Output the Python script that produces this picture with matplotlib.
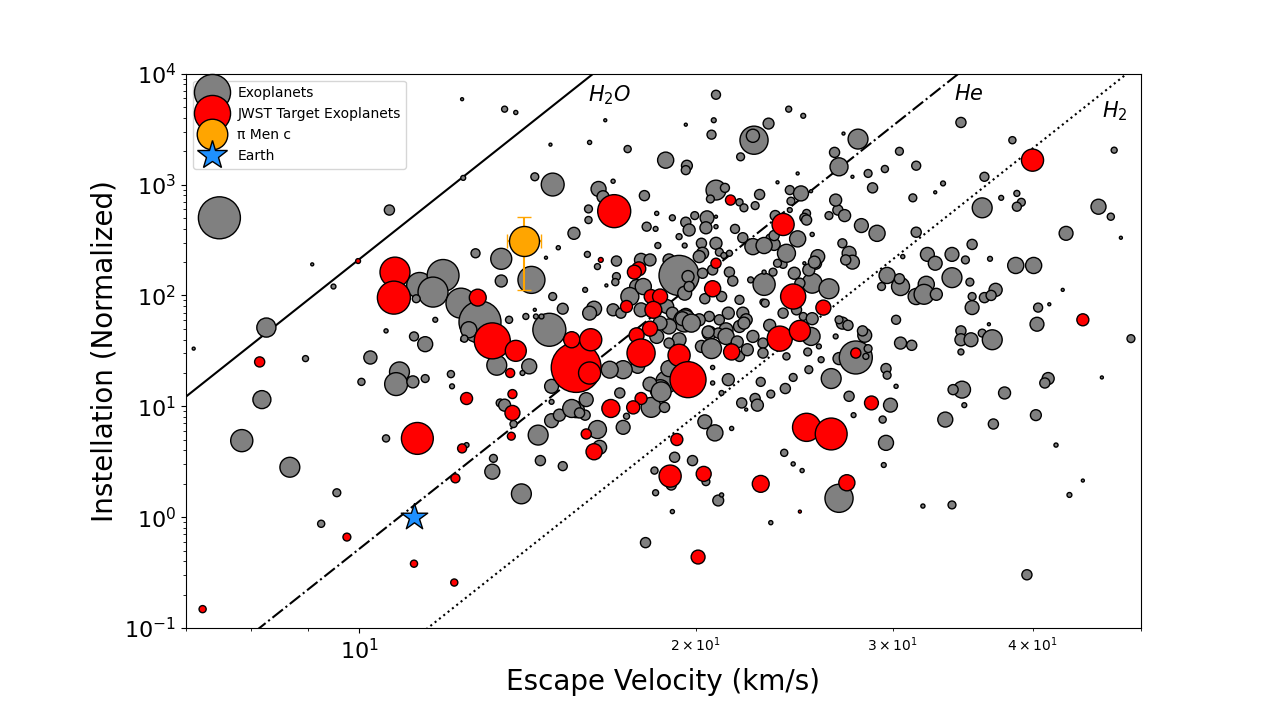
import numpy as np
import matplotlib.pyplot as plt
from matplotlib.lines import Line2D

# values: log10 escape velocity (km/s), log10 instellation, planet radius (R_earth)
gray_logv = [
    0.852, 0.875, 0.895, 0.913, 0.917, 0.938, 0.952, 0.958, 0.977, 0.980,
    0.966, 1.010, 1.002, 1.027, 1.092, 1.093, 1.024, 1.024, 1.054, 1.075,
    1.066, 1.091, 1.108, 1.098, 1.051, 1.068, 1.049, 1.059, 1.104, 1.127,
    1.127, 1.134, 1.036, 1.033, 1.048, 1.059, 1.082, 1.083, 1.123, 1.152,
    1.146, 1.126, 1.130, 1.138, 1.160, 1.154, 1.170, 1.182, 1.173, 1.157,
    1.158, 1.163, 1.149, 1.092, 1.094, 1.172, 1.172, 1.179, 1.172, 1.096,
    1.120, 1.119, 1.162, 1.182, 1.145, 1.130, 1.140, 1.220, 1.171, 1.206,
    1.240, 1.319, 1.384, 1.397, 1.366, 1.317, 1.292, 1.315, 1.353, 1.352,
    1.341, 1.274, 1.293, 1.292, 1.392, 1.374, 1.157, 1.173, 1.227, 1.214,
    1.218, 1.255, 1.205, 1.205, 1.319, 1.327, 1.314, 1.340, 1.344, 1.354,
    1.358, 1.385, 1.395, 1.386, 1.404, 1.385, 1.400, 1.398, 1.392, 1.405,
    1.266, 1.280, 1.257, 1.265, 1.292, 1.300, 1.311, 1.310, 1.295, 1.319,
    1.319, 1.336, 1.192, 1.286, 1.291, 1.267, 1.306, 1.319, 1.307, 1.322,
    1.326, 1.343, 1.352, 1.361, 1.368, 1.371, 1.178, 1.204, 1.167, 1.213,
    1.230, 1.252, 1.260, 1.277, 1.304, 1.331, 1.379, 1.408, 1.286, 1.294,
    1.230, 1.229, 1.221, 1.202, 1.248, 1.242, 1.254, 1.307, 1.316, 1.331,
    1.334, 1.350, 1.362, 1.340, 1.324, 1.309, 1.291, 1.295, 1.210, 1.227,
    1.234, 1.206, 1.252, 1.275, 1.280, 1.292, 1.291, 1.313, 1.330, 1.343,
    1.361, 1.379, 1.391, 1.405, 1.402, 1.322, 1.346, 1.340, 1.304, 1.313,
    1.328, 1.407, 1.352, 1.361, 1.266, 1.277, 1.269, 1.289, 1.297, 1.334,
    1.306, 1.286, 1.277, 1.321, 1.328, 1.338, 1.312, 1.315, 1.340, 1.361,
    1.344, 1.347, 1.249, 1.275, 1.269, 1.260, 1.277, 1.261, 1.273, 1.270,
    1.233, 1.236, 1.224, 1.239, 1.236, 1.213, 1.215, 1.194, 1.202, 1.190,
    1.197, 1.203, 1.224, 1.316, 1.316, 1.330, 1.359, 1.342, 1.346, 1.354,
    1.356, 1.368, 1.381, 1.388, 1.402, 1.401, 1.382, 1.324, 1.309, 1.318,
    1.333, 1.282, 1.298, 1.279, 1.310, 1.264, 1.265, 1.280, 1.321, 1.324,
    1.256, 1.368, 1.380, 1.388, 1.396, 1.372, 1.371, 1.400, 1.420, 1.428,
    1.434, 1.449, 1.463, 1.498, 1.432, 1.438, 1.441, 1.435, 1.410, 1.407,
    1.382, 1.374, 1.398, 1.362, 1.362, 1.370, 1.389, 1.394, 1.420, 1.363,
    1.397, 1.405, 1.367, 1.404, 1.411, 1.413, 1.422, 1.429, 1.444, 1.452,
    1.455, 1.453, 1.432, 1.437, 1.426, 1.429, 1.480, 1.484, 1.494, 1.471,
    1.472, 1.480, 1.438, 1.475, 1.442, 1.472, 1.484, 1.483, 1.467, 1.486,
    1.498, 1.468, 1.471, 1.469, 1.429, 1.504, 1.530, 1.538, 1.446, 1.433,
    1.425, 1.483, 1.584, 1.675, 1.429, 1.441, 1.455, 1.470, 1.498, 1.459,
    1.522, 1.515, 1.559, 1.495, 1.574, 1.588, 1.592, 1.588, 1.557, 1.661,
    1.672, 1.426, 1.632, 1.681, 1.548, 1.508, 1.515, 1.530, 1.542, 1.564,
    1.587, 1.603, 1.507, 1.505, 1.516, 1.530, 1.546, 1.569, 1.559, 1.565,
    1.548, 1.548, 1.629, 1.617, 1.607, 1.606, 1.690, 1.563, 1.450, 1.538,
    1.538, 1.547, 1.557, 1.566, 1.538, 1.539, 1.531, 1.541, 1.524, 1.567,
    1.577, 1.605, 1.616, 1.613, 1.664, 1.623, 1.647, 1.635, 1.597,
]
gray_logs = [
    1.52, 2.70, 0.69, 1.06, 1.71, 0.45, 1.43, 2.28, 2.08, 0.22,
    -0.06, 1.44, 1.22, 2.77, 3.77, 3.06, 1.68, 0.71, 2.09, 2.18,
    2.03, 1.93, 1.76, 1.69, 1.97, 1.78, 1.63, 1.56, 2.38, 2.33,
    2.13, 1.78, 1.31, 1.20, 1.22, 1.25, 1.29, 1.18, 1.37, 1.36,
    1.30, 1.03, 1.01, 0.84, 0.74, 2.14, 1.69, 1.88, 1.99, 1.87,
    1.81, 1.81, 1.81, 1.60, 1.61, 1.18, 0.87, 0.92, 1.04, 0.65,
    0.53, 0.41, 0.51, 0.46, 0.21, 3.68, 3.65, 3.58, 3.36, 3.38,
    3.32, 3.81, 3.68, 3.62, 3.55, 3.58, 3.54, 3.45, 3.40, 3.44,
    3.25, 3.22, 3.17, 3.13, 3.10, 3.02, 3.07, 3.00, 3.03, 2.96,
    2.89, 2.90, 2.78, 2.68, 2.95, 2.97, 2.87, 2.84, 2.79, 2.81,
    2.91, 2.95, 2.92, 2.85, 2.94, 2.77, 2.74, 2.70, 2.51, 2.55,
    2.74, 2.70, 2.62, 2.60, 2.66, 2.72, 2.70, 2.61, 2.59, 2.71,
    2.62, 2.60, 2.56, 2.53, 2.45, 2.45, 2.47, 2.47, 2.38, 2.39,
    2.36, 2.52, 2.44, 2.47, 2.51, 2.46, 2.43, 2.37, 2.34, 2.26,
    2.31, 2.32, 2.32, 2.32, 2.35, 2.38, 2.28, 2.29, 2.18, 2.17,
    2.17, 2.12, 2.09, 2.05, 2.08, 1.99, 2.08, 2.20, 2.23, 2.21,
    2.13, 2.14, 2.10, 1.96, 1.99, 1.97, 2.02, 2.08, 1.88, 1.87,
    1.84, 1.84, 1.87, 1.90, 1.84, 1.82, 1.77, 1.81, 1.84, 1.84,
    1.94, 1.84, 1.87, 2.11, 2.23, 1.78, 1.78, 1.72, 1.78, 1.66,
    1.69, 1.78, 1.63, 1.57, 1.63, 1.72, 1.75, 1.79, 1.75, 1.57,
    1.54, 1.60, 1.57, 1.66, 1.63, 1.58, 1.67, 1.52, 1.45, 1.48,
    1.75, 1.51, 1.36, 1.22, 1.15, 1.20, 1.34, 0.99, 0.99, 1.13,
    1.12, 1.33, 1.34, 0.91, 0.81, 0.79, 0.63, 0.97, 0.92, 0.98,
    0.94, 1.06, 1.33, 1.35, 1.21, 1.24, 1.22, 1.03, 0.97, 1.07,
    1.01, 1.11, 1.16, 1.26, 1.33, 1.49, 1.45, 1.12, 0.86, 0.76,
    0.80, 0.54, 0.51, 0.29, 0.32, 0.42, 0.22, 0.05, 0.15, 0.20,
    -0.23, -0.05, 0.58, 0.48, 0.42, 2.72, 2.54, 2.68, 2.72, 2.77,
    2.72, 2.63, 2.56, 2.57, 2.47, 2.38, 2.30, 2.32, 2.35, 2.30,
    2.38, 2.29, 2.29, 2.45, 2.21, 2.21, 2.20, 2.11, 2.06, 1.93,
    1.81, 1.79, 1.73, 1.63, 1.54, 1.42, 1.25, 1.43, 1.44, 1.64,
    1.52, 1.45, 1.75, 1.73, 1.63, 1.78, 1.78, 1.57, 1.55, 1.34,
    1.28, 1.18, 1.09, 1.01, 0.92, 2.18, 2.08, 2.15, 2.08, 2.35,
    1.99, 0.88, 0.67, 0.47, 0.17, 0.10, 0.11, 3.56, 3.41, 3.46,
    3.29, 3.30, 3.40, 3.31, 3.16, 3.07, 3.10, 3.14, 3.17, 2.97,
    3.01, 2.93, 3.07, 2.88, 2.88, 2.92, 2.84, 2.80, 2.79, 2.80,
    2.71, 2.86, 2.56, 2.52, 2.46, 2.37, 2.29, 2.37, 2.32, 2.33,
    2.27, 2.27, 2.10, 2.01, 2.01, 2.16, 2.12, 2.05, 1.98, 2.00,
    1.99, 1.89, 2.05, 1.92, 1.89, 1.74, 1.61, 1.74, 1.68, 1.68,
    1.60, 1.60, 1.66, 1.60, 1.49, 1.15, 1.15, 1.01, 0.88, 0.84,
    1.12, 0.92, 1.25, 1.21, 1.26, 0.65, 0.33, 0.20, -0.52,
]
gray_rad = [
    0.8, 11.2, 5.9, 4.8, 5.1, 5.3, 1.6, 0.8, 1.3, 2.1,
    1.9, 3.5, 1.9, 2.7, 0.8, 1.3, 1.1, 1.9, 6.9, 8.5,
    8.0, 8.0, 11.2, 4.3, 2.1, 1.3, 2.4, 4.0, 2.4, 5.6,
    3.2, 1.9, 5.3, 6.1, 3.2, 2.1, 1.9, 1.3, 5.3, 4.0,
    1.3, 2.1, 3.2, 1.9, 5.3, 7.2, 8.8, 2.9, 2.1, 0.8,
    1.3, 1.3, 1.6, 0.8, 1.9, 3.7, 3.7, 3.2, 1.3, 1.3,
    2.1, 4.0, 2.7, 2.4, 5.3, 1.6, 1.1, 0.8, 0.8, 1.1,
    1.9, 2.4, 1.6, 1.3, 2.9, 1.3, 0.8, 2.4, 7.5, 3.5,
    2.1, 4.3, 2.9, 2.4, 0.8, 0.8, 2.1, 6.1, 1.1, 4.0,
    3.2, 2.7, 2.1, 1.9, 5.3, 2.4, 2.1, 1.9, 2.1, 2.1,
    2.7, 2.4, 4.0, 2.1, 0.8, 1.3, 2.1, 2.4, 4.3, 1.1,
    1.1, 1.6, 2.4, 1.3, 2.7, 2.1, 3.7, 3.2, 3.2, 0.8,
    1.1, 2.4, 3.2, 1.6, 1.3, 1.6, 2.7, 3.2, 3.2, 2.1,
    1.6, 2.7, 4.3, 2.1, 2.7, 3.2, 1.1, 1.6, 0.8, 1.6,
    2.7, 3.5, 3.2, 3.2, 3.2, 1.6, 2.1, 3.2, 10.7, 3.2,
    2.1, 1.9, 0.8, 1.3, 3.7, 4.8, 4.3, 2.7, 2.7, 2.7,
    2.7, 1.6, 5.9, 2.4, 2.7, 2.7, 3.7, 2.7, 4.0, 3.2,
    2.7, 3.7, 3.7, 3.7, 3.2, 3.7, 5.9, 2.7, 3.2, 3.2,
    1.6, 2.7, 2.7, 5.3, 3.2, 2.7, 3.2, 3.2, 3.2, 3.7,
    3.7, 1.3, 3.2, 2.7, 3.7, 4.0, 3.7, 3.7, 4.8, 3.2,
    3.2, 3.7, 2.7, 2.7, 4.3, 3.2, 3.2, 5.3, 2.7, 2.7,
    3.2, 3.2, 3.7, 5.9, 5.3, 3.7, 4.3, 5.3, 2.7, 5.3,
    2.7, 4.8, 2.1, 1.6, 3.7, 4.8, 3.7, 4.3, 2.7, 4.8,
    2.7, 3.7, 4.5, 1.1, 1.1, 3.2, 2.4, 2.7, 0.8, 2.7,
    3.2, 2.1, 2.7, 2.1, 2.1, 2.1, 1.9, 1.3, 3.7, 4.3,
    1.1, 2.7, 2.7, 2.7, 2.1, 1.9, 1.6, 1.1, 2.9, 1.1,
    2.7, 1.1, 1.9, 1.1, 1.1, 2.7, 2.7, 2.7, 2.1, 2.7,
    3.2, 3.7, 4.3, 2.7, 2.4, 3.7, 3.7, 2.7, 3.7, 3.2,
    4.8, 2.1, 0.8, 4.3, 1.1, 2.1, 3.2, 2.7, 5.3, 2.1,
    2.1, 3.2, 3.2, 4.8, 1.3, 1.6, 5.3, 3.2, 8.8, 3.7,
    2.1, 1.6, 3.2, 2.7, 1.3, 2.1, 2.4, 3.2, 2.7, 2.7,
    2.1, 1.1, 2.7, 3.7, 1.3, 4.3, 4.8, 2.7, 2.1, 1.1,
    4.3, 1.9, 4.0, 1.3, 7.5, 1.1, 2.1, 2.7, 5.3, 0.8,
    2.7, 2.1, 1.9, 1.6, 4.8, 0.8, 2.1, 1.9, 2.4, 2.7,
    1.3, 0.8, 2.4, 2.1, 1.3, 1.6, 2.1, 2.4, 5.3, 4.0,
    1.9, 3.2, 3.7, 0.8, 2.7, 3.7, 3.7, 3.7, 2.1, 1.3,
    4.3, 4.3, 4.3, 5.3, 3.2, 5.3, 2.1, 3.5, 2.7, 2.7,
    2.1, 3.7, 0.8, 0.8, 2.4, 3.7, 2.1, 0.8, 2.7, 2.7,
    3.2, 3.7, 2.1, 5.3, 1.6, 4.5, 2.7, 1.3, 4.0, 2.7,
    3.2, 2.9, 3.2, 2.7, 0.8, 1.1, 0.8, 1.3, 2.7,
]

red_logv = [
    0.999, 1.032, 1.031, 1.106, 1.119, 1.140, 1.135, 1.096, 1.137, 1.137,
    1.136, 1.052, 1.092, 1.086, 0.989, 1.049, 1.085, 0.860, 0.911, 1.228,
    1.332, 1.379, 1.216, 1.319, 1.250, 1.246, 1.316, 1.239, 1.261, 1.269,
    1.263, 1.194, 1.206, 1.190, 1.207, 1.260, 1.248, 1.252, 1.286, 1.294,
    1.333, 1.388, 1.415, 1.376, 1.394, 1.252, 1.245, 1.225, 1.203, 1.210,
    1.284, 1.278, 1.308, 1.303, 1.359, 1.394, 1.400, 1.422, 1.444, 1.458,
    1.436, 1.602, 1.647,
]
red_logs = [
    2.31, 2.21, 1.98, 1.98, 1.59, 1.50, 1.30, 1.07, 1.11, 0.94,
    0.73, 0.71, 0.62, 0.35, -0.18, -0.42, -0.59, -0.83, 1.40, 2.76,
    2.86, 2.64, 2.32, 2.29, 2.24, 2.21, 2.06, 1.90, 1.99, 1.99,
    1.87, 1.35, 1.30, 1.60, 1.60, 1.70, 1.64, 1.48, 1.46, 1.24,
    1.49, 1.99, 1.89, 1.61, 1.68, 1.07, 0.99, 0.98, 0.75, 0.59,
    0.70, 0.37, 0.39, -0.36, 0.30, 0.05, 0.81, 0.75, 1.48, 1.03,
    0.31, 3.22, 1.78,
]
red_rad = [
    1.3, 8.0, 8.8, 4.5, 9.6, 5.6, 2.4, 3.2, 2.4, 4.0,
    2.1, 8.5, 2.4, 2.4, 2.1, 1.9, 1.9, 1.9, 2.7, 8.8,
    2.7, 5.9, 1.3, 2.7, 3.7, 3.7, 4.3, 3.2, 3.7, 4.0,
    4.5, 13.3, 5.9, 4.3, 5.9, 4.0, 4.0, 7.5, 5.9, 9.6,
    4.3, 6.7, 4.0, 6.7, 5.6, 3.2, 3.5, 4.8, 2.7, 4.3,
    3.2, 5.9, 4.0, 3.7, 4.5, 0.8, 7.5, 8.5, 2.7, 3.7,
    4.3, 5.9, 3.2,
]

# pi Men c with its uncertainties, and Earth
pimen_v, pimen_v_err = 14.04, 0.49
pimen_s, pimen_s_err = 311, 200
earth_v, earth_s = 11.19, 1.0

# escape lines: S = C * (m * v^2)^4 for each molecule
molecules = ['$H_2O$', '$He$', '$H_2$']
mol_mass = [18, 4, 2]
log_c = -10.695


def marker_area(rad):
    return (2.7 * np.asarray(rad)) ** 2


fig = plt.figure(figsize=(12.71, 7.21), dpi=100)
ax = fig.add_axes([0.1463, 0.129, 0.7514, 0.7688])

v_line = np.geomspace(7, 50, 300)
styles = ['-', '-.', ':']
for mass, ls in zip(mol_mass, styles):
    s_line = 10 ** log_c * (mass * v_line ** 2) ** 4
    ax.plot(v_line, s_line, color='black', ls=ls, lw=1.5, zorder=1)

ax.scatter(10 ** np.array(gray_logv), 10 ** np.array(gray_logs), s=marker_area(gray_rad),
           c='gray', edgecolors='black', linewidths=1.0, zorder=2)
ax.scatter(10 ** np.array(red_logv), 10 ** np.array(red_logs), s=marker_area(red_rad),
           c='red', edgecolors='black', linewidths=1.0, zorder=3)
ax.errorbar(pimen_v, pimen_s, xerr=pimen_v_err, yerr=pimen_s_err, fmt='none',
            ecolor='orange', elinewidth=1.5, capsize=5, zorder=4)
ax.scatter([pimen_v], [pimen_s], s=marker_area([8.0]), c='orange',
           edgecolors='black', linewidths=1.0, zorder=5)
ax.scatter([earth_v], [earth_s], s=400, marker='*', c='dodgerblue',
           edgecolors='black', linewidths=1.0, zorder=6)

ax.text(16.0, 6400, molecules[0], fontsize=15, va='center', ha='left')
ax.text(34.0, 6600, molecules[1], fontsize=15, va='center', ha='left')
ax.text(46.1, 4600, molecules[2], fontsize=15, va='center', ha='left')

ax.set_xscale('log')
ax.set_yscale('log')
ax.set_xlim(7, 50)
ax.set_ylim(0.1, 1e4)
ax.tick_params(axis='both', which='major', labelsize=16)
ax.set_xlabel('Escape Velocity (km/s)', fontsize=20)
ax.set_ylabel('Instellation (Normalized)', fontsize=20)

handles = [
    Line2D([], [], ls='', marker='o', markersize=26, markerfacecolor='gray',
           markeredgecolor='black', label='Exoplanets'),
    Line2D([], [], ls='', marker='o', markersize=26, markerfacecolor='red',
           markeredgecolor='black', label='JWST Target Exoplanets'),
    Line2D([], [], ls='', marker='o', markersize=22, markerfacecolor='orange',
           markeredgecolor='black', label='π Men c'),
    Line2D([], [], ls='', marker='*', markersize=22, markerfacecolor='dodgerblue',
           markeredgecolor='black', label='Earth'),
]
ax.legend(handles=handles, loc='upper left', fontsize=10)

fig.savefig('out.png', dpi=100)
